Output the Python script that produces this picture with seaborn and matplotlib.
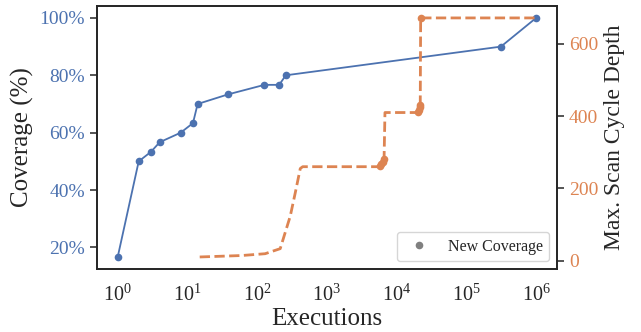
import matplotlib
matplotlib.use("Agg")
import matplotlib.pyplot as plt
from matplotlib.lines import Line2D
from matplotlib.ticker import MultipleLocator, FuncFormatter, FixedLocator, NullLocator
import seaborn as sns
import pandas as pd

# Coverage data (blue)
cov_execs = [1, 2, 3, 4, 8, 12, 14, 38, 127, 207, 257, 313000, 1000000]
cov_values = [16.67, 50.0, 53.33, 56.67, 60.0, 63.33, 70.0, 73.33, 76.67, 76.67, 80.0, 90.0, 100.0]

# Max scan cycle depth (orange, dashed)
depth_execs = [15, 60, 130, 214, 298, 352, 415, 450, 5500, 5700, 6000, 6300, 6600, 6800,
               19500, 20000, 20700, 21300, 21800, 22100, 1000000]
depth_values = [10, 14, 19, 33, 123, 188, 255, 260, 260, 263, 268, 274, 280, 410,
                410, 412, 418, 424, 430, 672, 672]
depth_marker_idx = [9, 10, 11, 12, 15, 16, 17, 18, 19]

x_ticks = [1, 10, 100, 1000, 10000, 100000, 1000000]
legend_label = "New Coverage"

sns.set_theme(style="ticks")
plt.rcParams["font.family"] = ["Liberation Serif", "DejaVu Serif"]
plt.rcParams["mathtext.fontset"] = "custom"
plt.rcParams["mathtext.rm"] = "Liberation Serif"
plt.rcParams["mathtext.it"] = "Liberation Serif:italic"
plt.rcParams["mathtext.bf"] = "Liberation Serif:bold"

blue = sns.color_palette("deep")[0]
orange = sns.color_palette("deep")[1]

fig, ax = plt.subplots(figsize=(6.41, 3.32), dpi=100)
fig.subplots_adjust(left=0.151, right=0.869, bottom=0.19, top=0.982)

cov_df = pd.DataFrame({"Executions": cov_execs, "Coverage": cov_values})
sns.lineplot(data=cov_df, x="Executions", y="Coverage", ax=ax, color=blue,
             marker="o", markersize=5.5, markeredgewidth=0, linewidth=1.3)
ax.set_xscale("log")
ax.set_xlabel("Executions", fontsize=18, labelpad=2)
ax.set_ylabel("Coverage (%)", fontsize=18)
ax.yaxis.set_major_locator(MultipleLocator(20))
ax.yaxis.set_major_formatter(FuncFormatter(lambda v, p: f"{v:.0f}%"))
ax.tick_params(axis="y", labelsize=14, labelcolor=blue, length=5, width=1.1)
ax.tick_params(axis="x", which="both", labelsize=14.5, length=0, pad=11)

ax2 = ax.twinx()
depth_df = pd.DataFrame({"Executions": depth_execs, "Depth": depth_values})
sns.lineplot(data=depth_df, x="Executions", y="Depth", ax=ax2, color=orange,
             linestyle="--", linewidth=2.0, marker="o", markersize=5.5,
             markeredgewidth=0, markevery=depth_marker_idx)
ax2.set_ylabel("Max. Scan Cycle Depth", fontsize=17)
ax2.yaxis.set_major_locator(MultipleLocator(200))
ax2.tick_params(axis="y", labelsize=14, labelcolor=orange, length=5, width=1.1)
ax2.set_xscale("log")

for a in (ax, ax2):
    a.xaxis.set_major_locator(FixedLocator(x_ticks))
    a.xaxis.set_minor_locator(NullLocator())
    for s in a.spines.values():
        s.set_visible(True)
        s.set_color("0.15")
        s.set_linewidth(1.25)

handle = Line2D([], [], linestyle="none", marker="o", color="0.5", markersize=5.5,
                markeredgewidth=0)
ax2.legend([handle], [legend_label], loc="lower right", fontsize=11.5, frameon=True)

fig.savefig("out.png", dpi=100)
